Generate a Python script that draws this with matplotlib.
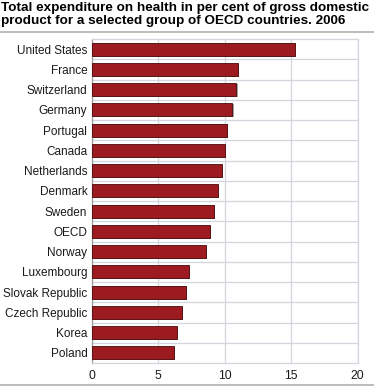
import matplotlib.pyplot as plt
from matplotlib.lines import Line2D

plt.rcParams['font.family'] = ['Liberation Sans', 'DejaVu Sans']

countries = ["United States", "France", "Switzerland", "Germany", "Portugal", "Canada",
             "Netherlands", "Denmark", "Sweden", "OECD", "Norway", "Luxembourg",
             "Slovak Republic", "Czech Republic", "Korea", "Poland"]
values = [15.3, 11.0, 10.9, 10.6, 10.2, 10.0, 9.8, 9.5, 9.2, 8.9, 8.6, 7.3, 7.1, 6.8, 6.4, 6.2]
xticks = [0, 5, 10, 15, 20]

fig = plt.figure(figsize=(3.74, 3.86), dpi=100)
ax = fig.add_axes([91.5/374, 1-363/386, 266/374, 324/386])

ypos = list(range(len(countries)))[::-1]
# shadow bars then bars
ax.barh([y - 0.04 for y in ypos], [v + 0.08 for v in values], height=0.66,
        color='#a0a0a0', zorder=2)
ax.barh(ypos, values, height=0.64, color='#9b1b21', edgecolor='#4a0a0c',
        linewidth=0.6, zorder=3)

ax.set_xlim(0, 20)
ax.set_ylim(-0.5, len(countries) - 0.5)
ax.set_xticks(xticks)
ax.set_yticks(ypos)
ax.set_yticklabels(countries)
ax.set_yticks([y + 0.5 for y in range(len(countries) - 1)], minor=True)
ax.tick_params(axis='both', which='both', length=0, labelsize=8.5, colors='#1a1a1a')
ax.tick_params(axis='x', labelsize=8.8, pad=5)
ax.tick_params(axis='y', pad=3)
ax.grid(True, which='major', axis='x', color='#d3d6de', linewidth=0.9, zorder=0)
ax.grid(True, which='minor', axis='y', color='#d3d6de', linewidth=0.9, zorder=0)
for s in ax.spines.values():
    s.set_color('#d3d6de')
    s.set_linewidth(0.9)
ax.spines['left'].set_color('#9a9a9a')

fig.text(0.003, 1-2/386, "Total expenditure on health in per cent of gross domestic\n"
         "product for a selected group of OECD countries. 2006",
         fontsize=9.7, fontweight='bold', va='top', ha='left', linespacing=1.08)
fig.add_artist(Line2D([0, 1], [1-31.5/386, 1-31.5/386], color='#b0b0b0', linewidth=1.2))
fig.add_artist(Line2D([0, 1], [1-384.5/386, 1-384.5/386], color='#b0b0b0', linewidth=1.2))

fig.savefig("out.png", dpi=100)
